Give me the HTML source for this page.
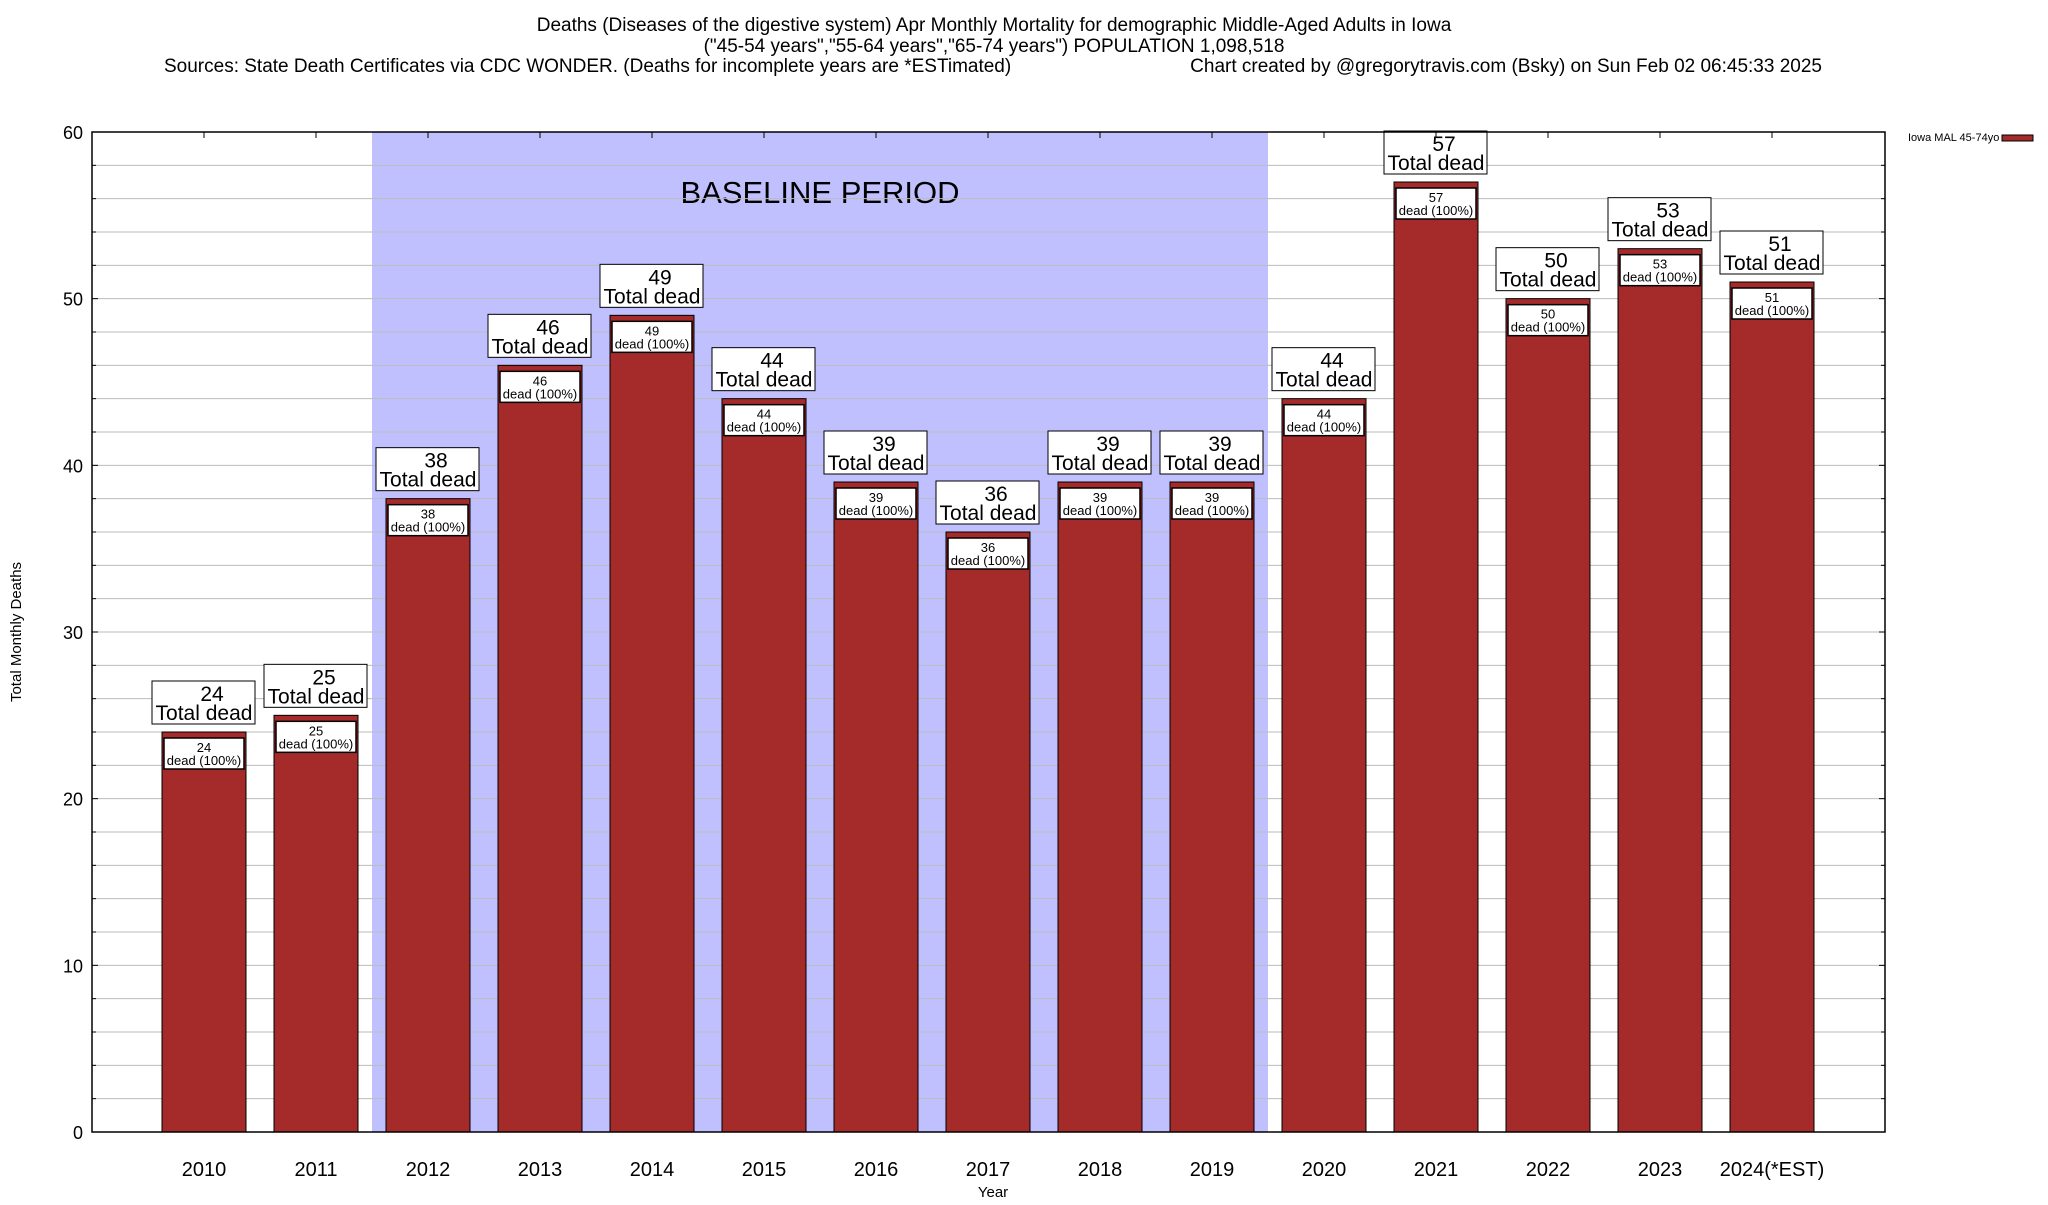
<!DOCTYPE html>
<html><head><meta charset="utf-8"><style>
body{margin:0;background:#fff}
svg text{font-family:"Liberation Sans",sans-serif}
</style></head><body>
<svg id="chart" width="2048" height="1200" xmlns="http://www.w3.org/2000/svg">
<g font-size="19">
<text x="994" y="31" text-anchor="middle">Deaths (Diseases of the digestive system) Apr Monthly Mortality for demographic Middle-Aged Adults in Iowa</text>
<text x="994" y="52" text-anchor="middle">("45-54 years","55-64 years","65-74 years") POPULATION 1,098,518</text>
<text x="164" y="72" text-anchor="start">Sources: State Death Certificates via CDC WONDER. (Deaths for incomplete years are *ESTimated)</text>
<text x="1822" y="72" text-anchor="end">Chart created by @gregorytravis.com (Bsky) on Sun Feb 02 06:45:33 2025</text>
</g>
<g id="plot"></g>
<text font-size="15" text-anchor="middle" transform="translate(21,632) rotate(-90)">Total Monthly Deaths</text>
<text font-size="15" text-anchor="middle" x="993" y="1197">Year</text>
<g>
<text x="1908" y="141" font-size="11">Iowa MAL 45-74yo</text>
<rect x="2002" y="135" width="31" height="6" fill="#a52a2a" stroke="#000" stroke-width="1"/>
</g>
</svg>
<script>
const categories=["2010","2011","2012","2013","2014","2015","2016","2017","2018","2019","2020","2021","2022","2023","2024(*EST)"];
const values=[24,25,38,46,49,44,39,36,39,39,44,57,50,53,51];
const yTicks=[0,10,20,30,40,50,60];
const baselineRange=[2,9];
const NS="http://www.w3.org/2000/svg";
const L=92,R=1885,T=132,B=1132,slot=112;
const x=i=>L+(i+1)*slot;
const y=v=>B-(v/60)*(B-T);
const g=document.getElementById('plot');
function el(tag,attrs,parent){const e=document.createElementNS(NS,tag);for(const k in attrs)e.setAttribute(k,attrs[k]);(parent||g).appendChild(e);return e;}
const bs=el('rect',{x:x(baselineRange[0])-slot/2,y:T,width:(baselineRange[1]-baselineRange[0]+1)*slot,height:B-T,fill:'#c0c0ff'});


const bt=el('text',{x:(x(baselineRange[0])-slot/2+x(baselineRange[1])+slot/2)/2,y:203,'font-size':31,'text-anchor':'middle'});
bt.textContent='BASELINE PERIOD';


for(let v=2;v<60;v+=2){
  const gl=el('line',{x1:L,x2:R,y1:y(v),y2:y(v),stroke:'#bbb','stroke-width':1});
  
  
  el('line',{x1:L,x2:L+(v%10?4:6),y1:y(v),y2:y(v),stroke:'#000'});
  el('line',{x1:R,x2:R-(v%10?4:6),y1:y(v),y2:y(v),stroke:'#000'});
}
yTicks.forEach(v=>{
  const t=el('text',{x:83,y:y(v)+7,'font-size':18,'text-anchor':'end'});
  t.textContent=v;
  
  
});
values.forEach((v,i)=>{
  const cx=x(i),w=84,top=y(v);
  const b=el('rect',{x:cx-w/2,y:top,width:w,height:B-top,fill:'#a52a2a',stroke:'#000','stroke-width':1});
  
  
  const ib=el('rect',{x:cx-w/2+2,y:top+6,width:w-4,height:31,fill:'#fff',stroke:'#000','stroke-width':1.5});
  
  
  const t1=el('text',{x:cx,y:top+20,'font-size':13,'text-anchor':'middle'});t1.textContent=v;
  
  
  const t2=el('text',{x:cx,y:top+33,'font-size':13,'text-anchor':'middle'});t2.textContent='dead (100%)';
  
  
  const ob=el('rect',{x:cx-52,y:top-51,width:103,height:43,fill:'#fff',stroke:'#000','stroke-width':1});
  
  
  const t3=el('text',{x:cx+8,y:top-31,'font-size':21,'text-anchor':'middle'});t3.textContent=v;
  
  
  const t4=el('text',{x:cx,y:top-12,'font-size':21,'text-anchor':'middle'});t4.textContent='Total dead';
  
  
  const xl=el('text',{x:cx,y:1176,'font-size':20,'text-anchor':'middle'});xl.textContent=categories[i];
  
  
  el('line',{x1:cx,x2:cx,y1:T,y2:T+6,stroke:'#000'});
});
const fr=el('rect',{x:L,y:T,width:R-L,height:B-T,fill:'none',stroke:'#000','stroke-width':1.5});


</script>
</body></html>
